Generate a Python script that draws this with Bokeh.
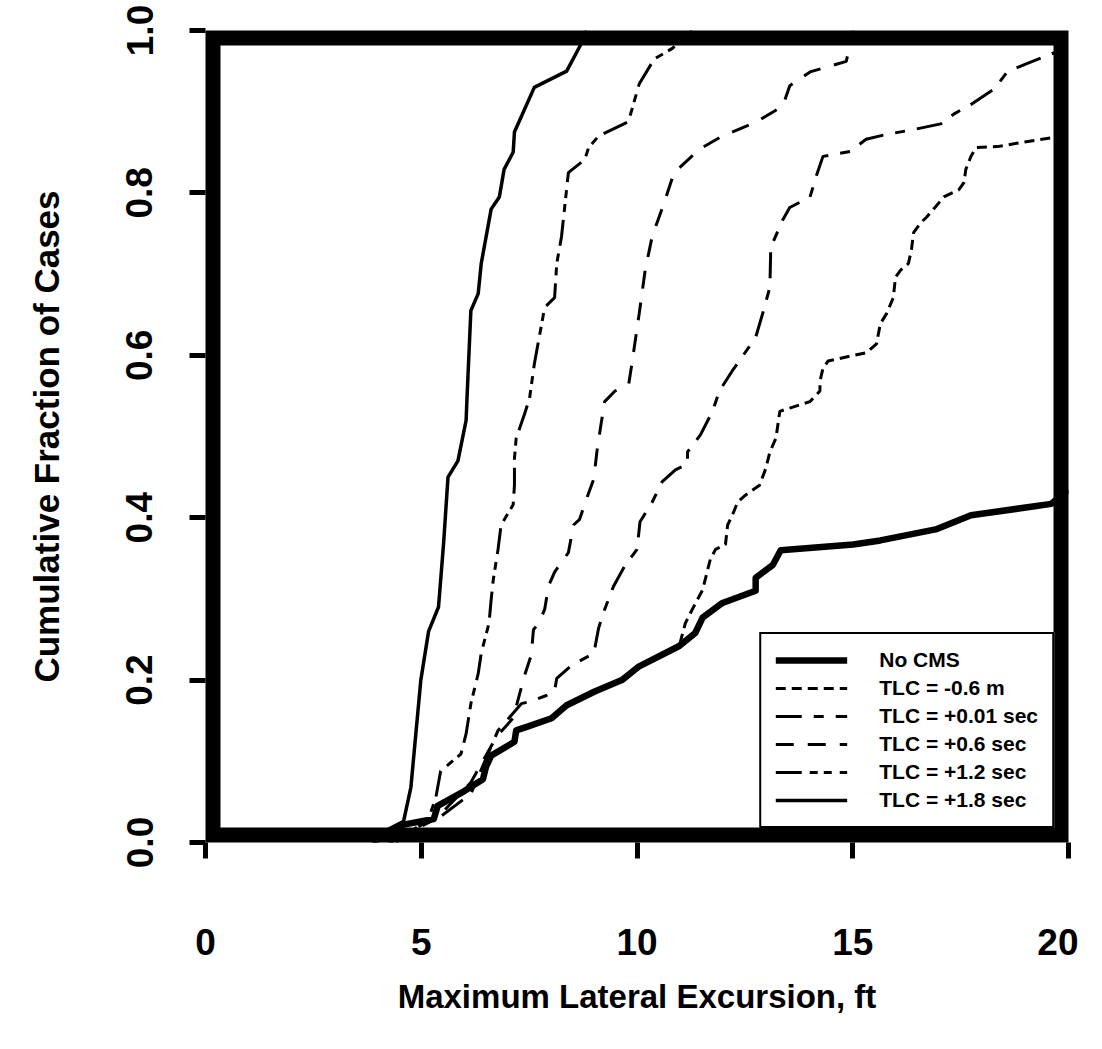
from bokeh.plotting import figure
from bokeh.models import Legend, LegendItem, BoxAnnotation, FixedTicker, Range1d, PrintfTickFormatter
from bokeh.embed import file_html
from bokeh.resources import INLINE

# ---------------- data ----------------
no_cms_x = [3.87, 4.59, 5.29, 5.38, 5.99, 6.43, 6.50, 6.62, 7.16, 7.20, 7.48, 8.02, 8.37, 9.02,
            9.65, 10.05, 10.98, 11.35, 11.52, 11.98, 12.75, 12.75, 13.15, 13.33, 15.01, 15.64,
            16.95, 17.74, 19.60, 19.84, 20.0]
no_cms_y = [0.0, 0.022, 0.029, 0.045, 0.063, 0.078, 0.093, 0.107, 0.124, 0.138, 0.143, 0.153, 0.169, 0.186,
            0.200, 0.217, 0.242, 0.258, 0.277, 0.295, 0.310, 0.326, 0.342, 0.360, 0.367, 0.372,
            0.386, 0.403, 0.417, 0.428, 0.434]

tlc_m06_x = [3.87, 4.59, 5.29, 5.38, 5.99, 6.43, 6.50, 6.62, 7.16, 7.20, 7.48, 8.02, 8.37, 9.02,
             9.65, 10.05, 10.98, 11.12, 11.28, 11.52, 11.70, 11.82, 12.05, 12.10, 12.21, 12.33,
             12.52, 12.84, 12.98, 13.08, 13.22, 13.31, 13.54, 14.01, 14.24, 14.24, 14.31, 14.43,
             14.94, 15.31, 15.55, 15.64, 15.78, 15.94, 15.99, 16.11, 16.29, 16.36, 16.41, 16.57,
             16.71, 16.92, 17.11, 17.46, 17.58, 17.62, 17.74, 17.86, 18.35, 18.90, 19.63, 20.0]
tlc_m06_y = [0.0, 0.022, 0.029, 0.045, 0.063, 0.078, 0.093, 0.107, 0.124, 0.138, 0.143, 0.153, 0.169, 0.186,
             0.200, 0.217, 0.242, 0.270, 0.287, 0.311, 0.349, 0.361, 0.367, 0.391, 0.403, 0.419,
             0.428, 0.440, 0.460, 0.481, 0.498, 0.531, 0.535, 0.543, 0.556, 0.568, 0.584, 0.593,
             0.599, 0.603, 0.614, 0.639, 0.651, 0.671, 0.696, 0.705, 0.713, 0.730, 0.751, 0.763,
             0.770, 0.783, 0.795, 0.804, 0.813, 0.829, 0.845, 0.856, 0.857, 0.862, 0.868, 0.871]

tlc_001_x = [4.24, 5.45, 6.15, 6.78, 7.32, 7.55, 7.90, 8.09, 8.14, 8.48, 9.00, 9.11, 9.25, 9.46,
             9.72, 10.0, 10.07, 10.35, 10.58, 10.89, 11.17, 11.17, 11.47, 11.75, 11.91, 12.21,
             12.75, 12.91, 13.08, 13.10, 13.38, 13.54, 14.01, 14.15, 14.31, 14.94, 15.31, 15.78,
             16.41, 17.04, 17.34, 17.74, 18.28, 18.58, 19.02, 19.74, 20.0]
tlc_001_y = [0.0, 0.032, 0.060, 0.138, 0.171, 0.174, 0.181, 0.187, 0.202, 0.218, 0.233, 0.264, 0.287, 0.316,
             0.341, 0.361, 0.395, 0.419, 0.444, 0.459, 0.466, 0.481, 0.502, 0.531, 0.556, 0.581,
             0.622, 0.651, 0.684, 0.733, 0.767, 0.782, 0.795, 0.820, 0.845, 0.851, 0.866, 0.872,
             0.878, 0.885, 0.897, 0.909, 0.928, 0.949, 0.959, 0.974, 0.979]

tlc_06_x = [4.29, 5.45, 6.15, 6.74, 7.16, 7.20, 7.39, 7.55, 7.60, 7.72, 7.86, 7.95, 8.09, 8.41,
            8.53, 8.67, 8.83, 9.00, 9.07, 9.14, 9.25, 9.49, 9.81, 9.88, 10.05, 10.19, 10.35,
            10.63, 10.86, 11.45, 11.98, 12.75, 13.38, 13.54, 14.01, 14.85, 15.01]
tlc_06_y = [0.0, 0.035, 0.074, 0.130, 0.155, 0.167, 0.205, 0.231, 0.262, 0.270, 0.287, 0.316, 0.333, 0.357,
            0.391, 0.398, 0.423, 0.448, 0.481, 0.506, 0.543, 0.556, 0.565, 0.589, 0.651, 0.705, 0.746,
            0.788, 0.825, 0.854, 0.870, 0.887, 0.907, 0.932, 0.949, 0.962, 1.0]

tlc_12_x = [4.41, 5.17, 5.34, 5.45, 5.92, 6.04, 6.15, 6.32, 6.39, 6.57, 6.62, 6.67, 6.78, 6.85,
            7.13, 7.16, 7.16, 7.20, 7.39, 7.51, 7.62, 7.86, 8.09, 8.14, 8.25, 8.41, 8.79, 8.88,
            9.11, 9.81, 9.84, 10.05, 10.40, 10.82, 11.28]
tlc_12_y = [0.0, 0.029, 0.056, 0.088, 0.109, 0.134, 0.171, 0.208, 0.233, 0.270, 0.299, 0.324, 0.361, 0.391,
            0.416, 0.440, 0.473, 0.498, 0.527, 0.547, 0.589, 0.659, 0.671, 0.713, 0.746, 0.825, 0.841, 0.856,
            0.870, 0.888, 0.895, 0.934, 0.965, 0.978, 1.0]

tlc_18_x = [3.94, 4.01, 4.59, 4.76, 4.99, 5.17, 5.40, 5.52, 5.62, 5.85, 6.04, 6.06, 6.15, 6.32,
            6.39, 6.62, 6.81, 6.92, 7.13, 7.16, 7.62, 8.37, 8.67, 8.83]
tlc_18_y = [0.0, 0.010, 0.026, 0.068, 0.200, 0.260, 0.290, 0.370, 0.450, 0.470, 0.520, 0.547, 0.655, 0.676,
            0.713, 0.780, 0.795, 0.829, 0.850, 0.875, 0.930, 0.950, 0.980, 1.0]

x_ticks = [0, 5, 10, 15, 20]
y_ticks = [0.0, 0.2, 0.4, 0.6, 0.8, 1.0]

labels = ["No CMS", "TLC = -0.6 m", "TLC = +0.01 sec", "TLC = +0.6 sec", "TLC = +1.2 sec", "TLC = +1.8 sec"]

# ---------------- figure ----------------
FONT = "Liberation Sans"
p = figure(frame_width=863, frame_height=812, output_backend="svg", toolbar_location=None,
           x_range=Range1d(0, 20), y_range=Range1d(0, 1),
           min_border_left=205, min_border_right=10, min_border_top=30, min_border_bottom=185)
p.background_fill_color = "white"
p.border_fill_color = "white"
p.outline_line_width = 0
p.outline_line_alpha = 0
p.xgrid.visible = False
p.ygrid.visible = False

for ax in (p.xaxis[0], p.yaxis[0]):
    ax.axis_line_width = 0
    ax.axis_line_alpha = 0
    ax.major_tick_in = 0
    ax.major_tick_out = 16
    ax.major_tick_line_width = 5
    ax.major_tick_line_color = "black"
    ax.minor_tick_line_alpha = 0
    ax.minor_tick_in = 0
    ax.minor_tick_out = 0
    ax.major_label_text_font = FONT
    ax.major_label_text_font_style = "bold"
    ax.major_label_text_font_size = "37px"
    ax.major_label_text_color = "black"
    ax.axis_label_text_font = FONT
    ax.axis_label_text_font_style = "bold"
    ax.axis_label_text_font_size = "33px"
    ax.axis_label_text_color = "black"

p.yaxis.axis_label_text_font_size = "35px"
p.xaxis.ticker = FixedTicker(ticks=x_ticks)
p.yaxis.ticker = FixedTicker(ticks=y_ticks)
p.yaxis.formatter = PrintfTickFormatter(format="%.1f")
p.xaxis.major_label_standoff = 70
p.xaxis.axis_label = "Maximum Lateral Excursion, ft"
p.xaxis.axis_label_standoff = 20
p.yaxis.major_label_orientation = "vertical"
p.yaxis.major_label_standoff = 37
p.yaxis.axis_label = "Cumulative Fraction of Cases"
p.yaxis.axis_label_standoff = 58

r_no = p.line(no_cms_x, no_cms_y, line_color="black", line_width=6.5, line_join="round")
r_m06 = p.line(tlc_m06_x, tlc_m06_y, line_color="black", line_width=3, line_dash="10 6")
r_001 = p.line(tlc_001_x, tlc_001_y, line_color="black", line_width=3, line_dash="26 12 10 12")
r_06 = p.line(tlc_06_x, tlc_06_y, line_color="black", line_width=3, line_dash="18 14")
r_12 = p.line(tlc_12_x, tlc_12_y, line_color="black", line_width=3, line_dash="26 8 8 6 8 8")
r_18 = p.line(tlc_18_x, tlc_18_y, line_color="black", line_width=3.5, line_join="round")

# thick frame border (drawn inside the frame)
border = BoxAnnotation(fill_alpha=0, line_color="black", line_alpha=1.0, line_width=30, level="overlay")
p.add_layout(border)

legend = Legend(items=[LegendItem(label=l, renderers=[r]) for l, r in
                       zip(labels, [r_no, r_m06, r_001, r_06, r_12, r_18])],
                location="bottom_right", margin=14, padding=14, spacing=4,
                glyph_width=72, glyph_height=20, label_height=20, label_standoff=32,
                label_text_font=FONT, label_text_font_style="bold", label_text_font_size="21px",
                label_text_color="black",
                border_line_color="black", border_line_width=2, border_line_alpha=1.0,
                background_fill_color="white", background_fill_alpha=1)
p.add_layout(legend)

open("out.html", "w").write(file_html(p, INLINE))
